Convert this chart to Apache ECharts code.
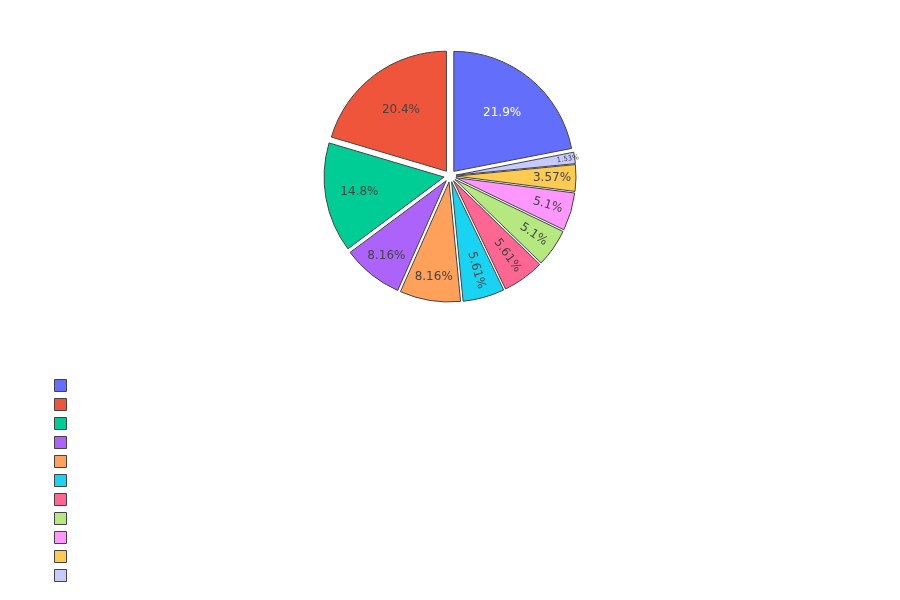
<!DOCTYPE html>
<html>
<head>
<meta charset="utf-8">
<script src="https://cdn.jsdelivr.net/npm/echarts@6/dist/echarts.min.js"></script>
<style>
  html, body { margin: 0; padding: 0; background: #fff; }
  #chart { width: 900px; height: 600px; }
</style>
</head>
<body>
<div id="chart"></div>
<script>
// slices in clockwise order starting at 12 o'clock
const names  = ['c1', 'c11', 'c10', 'c9', 'c8', 'c7', 'c6', 'c5', 'c4', 'c3', 'c2'];
const values = [43, 3, 7, 10, 10, 11, 11, 16, 16, 29, 40];
const colors = ['#636efa', '#c6cafd', '#fecb52', '#ff97ff', '#b6e880', '#ff6692',
                '#19d3f3', '#ffa15a', '#ab63fa', '#00cc96', '#ef553b'];
// legend order (largest first)
const legendOrder = ['c1', 'c2', 'c3', 'c4', 'c5', 'c6', 'c7', 'c8', 'c9', 'c10', 'c11'];
// which labels follow the radius
const radialLabels = ['c11', 'c9', 'c8', 'c7', 'c6'];

const total = values.reduce((a, b) => a + b, 0);
const pct = v => parseFloat((v / total * 100).toPrecision(3)) + '%';

const center = [450, 176];
const R = 120;
const offset = 6;

// label rings: labels sit half way between inner radius and R
const rings = [
  { inner: 26, members: ['c1', 'c2'] },
  { inner: 46, members: ['c3'] },
  { inner: 58, members: ['c6', 'c7'] },
  { inner: 66, members: ['c4', 'c5', 'c8', 'c9', 'c10'] },
  { inner: 100, members: ['c11'] }
];

const pieData = names.map((n, i) => ({
  name: n,
  value: values[i],
  selected: true,
  itemStyle: { color: colors[i] }
}));

const chart = echarts.init(document.getElementById('chart'));

const series = [{
  type: 'pie',
  center: center,
  radius: [0, R],
  startAngle: 90,
  clockwise: true,
  selectedMode: 'multiple',
  selectedOffset: offset,
  silent: true,
  label: { show: false },
  labelLine: { show: false },
  itemStyle: { borderColor: '#444', borderWidth: 1 },
  data: pieData
}];

rings.forEach(ring => {
  series.push({
    type: 'pie',
    center: center,
    radius: [ring.inner, R],
    startAngle: 90,
    clockwise: true,
    selectedMode: 'multiple',
    selectedOffset: offset,
    silent: true,
    itemStyle: { color: 'rgba(0,0,0,0)', borderWidth: 0 },
    labelLine: { show: false },
    data: names.map((n, i) => ({
      name: n,
      value: values[i],
      selected: true,
      label: {
        show: ring.members.indexOf(n) >= 0,
        position: 'inside',
        fontFamily: 'DejaVu Sans',
        rotate: radialLabels.indexOf(n) >= 0 ? 'radial' : 0,
        color: n === 'c1' ? '#fff' : '#444',
        fontSize: n === 'c11' ? 7 : 12,
        formatter: p => pct(p.value)
      }
    }))
  });
});

chart.setOption({
  animation: false,
  legend: {
    data: legendOrder,
    orient: 'vertical',
    left: 54,
    top: 379,
    padding: 0,
    icon: 'rect',
    itemWidth: 12,
    itemHeight: 12,
    itemGap: 6,
    selectedMode: false,
    formatter: () => '',
    textStyle: { fontSize: 10, lineHeight: 12 },
    itemStyle: { borderColor: '#444', borderWidth: 1 }
  },
  series: series
});
</script>
</body>
</html>
